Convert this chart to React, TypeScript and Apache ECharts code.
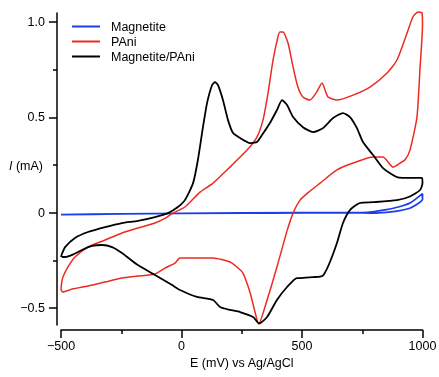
import React, { useEffect, useRef } from "react";
import * as echarts from "echarts";

// Magnetite (blue)
const magE = [-500, -250, 0, 250, 500, 700, 800, 850, 900, 950, 1000, 1000, 950, 900, 850, 800, 750, 500, 0, -500];
const magI = [-0.01, -0.006, -0.003, -0.002, -0.001, 0.0, -0.002, 0.002, 0.01, 0.025, 0.07, 0.1, 0.052, 0.03, 0.016, 0.006, 0.001, 0.0, -0.003, -0.01];

// PAni (red)
const paniE = [-500, -497, -492, -471, -442, -388, -317, -247, -181, -110, -69, -39, 14, 77, 131, 201, 272, 313, 338, 359, 380, 400, 409, 421, 442, 463, 483, 504, 533, 560, 583, 608, 645, 712, 782, 853, 894, 936, 960, 981, 998, 1000, 990, 977, 948, 927, 907, 878, 836, 795, 712, 645, 575, 530, 492, 463, 438, 396, 355, 320, 305, 285, 255, 230, 201, 131, 64, -6, -27, -69, -110, -181, -247, -317, -388, -454, -492, -500];
const paniI = [-0.405, -0.365, -0.337, -0.284, -0.232, -0.18, -0.143, -0.106, -0.08, -0.054, -0.03, -0.005, 0.03, 0.108, 0.155, 0.239, 0.328, 0.396, 0.485, 0.627, 0.8, 0.92, 0.946, 0.946, 0.889, 0.763, 0.658, 0.606, 0.59, 0.63, 0.679, 0.606, 0.59, 0.616, 0.658, 0.732, 0.8, 0.941, 1.025, 1.051, 1.046, 0.98, 0.763, 0.501, 0.328, 0.276, 0.26, 0.239, 0.292, 0.292, 0.26, 0.224, 0.155, 0.11, 0.066, -0.002, -0.095, -0.284, -0.457, -0.583, -0.52, -0.42, -0.316, -0.284, -0.258, -0.237, -0.237, -0.237, -0.264, -0.29, -0.321, -0.332, -0.342, -0.363, -0.384, -0.4, -0.415, -0.405];

// Magnetite/PAni (black)
const compE = [-500, -496, -483, -442, -388, -317, -247, -181, -110, -56, -15, 14, 48, 68, 89, 106, 127, 139, 151, 172, 193, 214, 243, 284, 313, 334, 367, 396, 417, 438, 463, 504, 546, 587, 629, 670, 699, 728, 753, 795, 836, 894, 960, 998, 1000, 990, 948, 894, 795, 740, 699, 670, 645, 616, 590, 575, 546, 492, 479, 438, 396, 355, 322, 297, 243, 201, 160, 131, 64, -6, -39, -110, -181, -247, -288, -330, -371, -413, -454, -483, -496];
const compI = [-0.232, -0.215, -0.18, -0.132, -0.101, -0.075, -0.054, -0.043, -0.023, -0.002, 0.03, 0.066, 0.155, 0.276, 0.448, 0.574, 0.669, 0.684, 0.669, 0.59, 0.485, 0.417, 0.391, 0.365, 0.37, 0.407, 0.47, 0.538, 0.59, 0.564, 0.501, 0.448, 0.422, 0.443, 0.496, 0.522, 0.501, 0.443, 0.37, 0.302, 0.234, 0.187, 0.182, 0.182, 0.155, 0.119, 0.085, 0.066, 0.055, 0.051, 0.014, -0.054, -0.159, -0.258, -0.325, -0.335, -0.337, -0.342, -0.342, -0.389, -0.457, -0.546, -0.58, -0.546, -0.52, -0.509, -0.494, -0.457, -0.441, -0.405, -0.379, -0.326, -0.274, -0.211, -0.18, -0.169, -0.174, -0.195, -0.221, -0.232, -0.232];

const seriesNames = ["Magnetite", "PAni", "Magnetite/PAni"];
const seriesColors = ["#1a3fe6", "#ee2a20", "#000000"];
const xMajor = 500;
const yMajorTicks = [-0.5, 0, 0.5, 1.0];
const yMinorTicks = [-0.25, 0.25, 0.75];

const pairs = (xs: number[], ys: number[]) => xs.map((x, i) => [x, ys[i]]);

const fmt = (v: number) => {
  if (v === 1) return "1.0";
  return String(v).replace("-", "\u2212");
};

export default function App() {
  const ref = useRef<HTMLDivElement>(null);
  useEffect(() => {
    const chart = echarts.init(ref.current!, null, { renderer: "svg" });
    const font = "Liberation Sans, Arial, Helvetica, sans-serif";
    const yCommon = {
      type: "value",
      min: -0.588,
      max: 1.046,
      position: "left",
      offset: 4,
      splitLine: { show: false },
    };
    chart.setOption({
      animation: false,
      textStyle: { fontFamily: font },
      grid: { left: 61, right: 16.5, top: 13, bottom: 52, outerBoundsMode: "none" },
      legend: {
        orient: "vertical",
        left: 67,
        top: 14,
        icon: "rect",
        itemWidth: 28,
        itemHeight: 2,
        itemGap: 0,
        selectedMode: false,
        textStyle: { fontSize: 12.5, color: "#000", lineHeight: 15, padding: [0, 0, 0, 6], fontFamily: font },
        data: seriesNames,
      },
      xAxis: {
        type: "value",
        min: -500,
        max: 1000,
        interval: xMajor,
        offset: 5,
        name: "E (mV) vs Ag/AgCl",
        nameLocation: "middle",
        nameGap: 21,
        nameTextStyle: { fontSize: 12.5, color: "#000", fontFamily: font },
        axisLine: { onZero: false, lineStyle: { color: "#000", width: 1.5 } },
        axisTick: { length: 8, lineStyle: { color: "#000", width: 1.5 } },
        minorTick: { show: true, splitNumber: 2, length: 4, lineStyle: { color: "#000", width: 1.5 } },
        axisLabel: { fontSize: 12.5, color: "#000", margin: 9, formatter: fmt, fontFamily: font },
        splitLine: { show: false },
      },
      yAxis: [
        {
          ...yCommon,
          axisLine: { show: true, onZero: false, lineStyle: { color: "#000", width: 1.5 } },
          axisTick: { show: true, length: 8, customValues: yMajorTicks, lineStyle: { color: "#000", width: 1.5 } },
          axisLabel: { fontSize: 12.5, color: "#000", margin: 12, customValues: yMajorTicks, formatter: fmt, fontFamily: font },
        },
        {
          ...yCommon,
          axisLine: { show: false, onZero: false },
          axisTick: { show: true, length: 4, customValues: yMinorTicks, lineStyle: { color: "#000", width: 1.5 } },
          axisLabel: { show: false },
        },
      ],
      graphic: [
        {
          type: "text",
          left: 9,
          top: 159,
          style: {
            text: "{i|I} (mA)",
            fontSize: 12.5,
            fontFamily: font,
            fill: "#000",
            rich: { i: { fontStyle: "italic", fontSize: 12.5, fontFamily: font } },
          },
        },
      ],
      series: [
        { name: seriesNames[0], data: pairs(magE, magI) },
        { name: seriesNames[1], data: pairs(paniE, paniI) },
        { name: seriesNames[2], data: pairs(compE, compI) },
      ].map((s, i) => ({
        ...s,
        type: "line",
        yAxisIndex: 0,
        showSymbol: false,
        symbol: "none",
        smooth: 0.2,
        clip: false,
        color: seriesColors[i],
        lineStyle: { color: seriesColors[i], width: i === 1 ? 1.5 : 1.8 },
      })),
    });
    return () => chart.dispose();
  }, []);
  return <div ref={ref} style={{ position: "fixed", left: 0, top: 0, width: 439, height: 377 }} />;
}
